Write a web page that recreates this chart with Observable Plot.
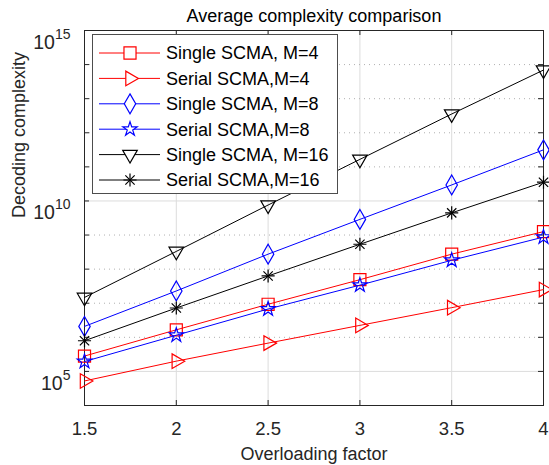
<!DOCTYPE html>
<html>
<head>
<meta charset="utf-8">
<script src="https://cdn.jsdelivr.net/npm/d3@7"></script>
<script src="https://cdn.jsdelivr.net/npm/@observablehq/plot@0.6"></script>
<style>
  html, body { margin: 0; padding: 0; background: #fff; }
  #wrap { position: relative; width: 549px; height: 465px; font-family: "Liberation Sans", Arial, sans-serif; }
  #legend { position: absolute; background: #fff; border: 1px solid #4d4d4d; box-sizing: border-box; }
</style>
</head>
<body>
<div id="wrap"></div>
<script>
// ---------- data ----------
const overloading = [1.5, 2, 2.5, 3, 3.5, 4];
const seriesNames = [
  "Single SCMA, M=4",
  "Serial SCMA,M=4",
  "Single SCMA, M=8",
  "Serial SCMA,M=8",
  "Single SCMA, M=16",
  "Serial SCMA,M=16"
];
const singleM4  = [2.82e5, 1.66e6, 9.33e6, 4.90e7, 2.75e8, 1.26e9];
const serialM4  = [5.25e4, 2.00e5, 6.76e5, 2.24e6, 7.41e6, 2.51e7];
const singleM8  = [2.09e6, 2.29e7, 2.75e8, 2.88e9, 2.95e10, 3.16e11];
const serialM8  = [1.95e5, 1.15e6, 6.76e6, 3.39e7, 1.82e8, 8.71e8];
const singleM16 = [1.48e7, 3.31e8, 7.59e9, 1.66e11, 3.55e12, 6.92e13];
const serialM16 = [7.94e5, 7.24e6, 6.31e7, 5.37e8, 4.47e9, 3.55e10];
const seriesValues = [singleM4, serialM4, singleM8, serialM8, singleM16, serialM16];

const xTicks = [1.5, 2, 2.5, 3, 3.5, 4];
const yLabelTicks = [1e5, 1e10, 1e15];
const yDecades = [1e4, 1e5, 1e6, 1e7, 1e8, 1e9, 1e10, 1e11, 1e12, 1e13, 1e14, 1e15];
const titleText = "Average complexity comparison";
const xLabelText = "Overloading factor";
const yLabelText = "Decoding complexity";

// ---------- styles (separate from data) ----------
const seriesStyle = [
  {color: "#ff0000", symbols: ["square"],        rotate: 0,   r: 6.8},
  {color: "#ff0000", symbols: ["triangle"],      rotate: 90,  r: 5.4},
  {color: "#0000ff", symbols: ["diamond"],       rotate: 0,   r: 6.0},
  {color: "#0000ff", symbols: ["star"],          rotate: 0,   r: 4.5},
  {color: "#000000", symbols: ["triangle"],      rotate: 180, r: 5.4},
  {color: "#000000", symbols: ["plus", "times"], rotate: 0,   r: 4.3}
];

const rows = seriesValues.flatMap((vals, i) =>
  overloading.map((x, j) => ({series: i, name: seriesNames[i], x, y: vals[j]})));

const W = 549, H = 465, ML = 84, MR = 6, MT = 30, MB = 60;
const FW = W - ML - MR, FH = H - MT - MB;
const TICK = 5;

const minorDecades = yDecades.filter(d => !yLabelTicks.includes(d));

const marks = [
  Plot.gridX(xTicks.slice(1, -1), {stroke: "#dcdcdc", strokeOpacity: 1}),
  Plot.gridY(minorDecades, {stroke: "#b0b0b0", strokeOpacity: 1, strokeDasharray: "1,4"}),
  Plot.gridY(yLabelTicks.slice(0, -1), {stroke: "#dcdcdc", strokeOpacity: 1}),
  Plot.frame({stroke: "#262626", strokeWidth: 1}),
  // inward tick marks (bottom, top, left, right)
  Plot.ruleX(xTicks, {x: d => d, stroke: "#262626", insetTop: FH - TICK}),
  Plot.ruleX(xTicks, {x: d => d, stroke: "#262626", insetBottom: FH - TICK}),
  Plot.ruleY(yDecades, {y: d => d, stroke: "#262626", insetRight: FW - TICK}),
  Plot.ruleY(yDecades, {y: d => d, stroke: "#262626", insetLeft: FW - TICK}),
  Plot.axisX({ticks: xTicks, tickSize: 0, tickPadding: 16, tickFormat: d => String(d), label: null, color: "#262626"}),
  Plot.axisY({ticks: yLabelTicks, tickSize: 0, tickPadding: 14, tickFormat: d => String(Math.round(Math.log10(d))), label: null, color: "#262626"}),
];

seriesValues.forEach((vals, i) => {
  const st = seriesStyle[i];
  const data = rows.filter(d => d.series === i);
  marks.push(Plot.line(data, {x: "x", y: "y", stroke: st.color, strokeWidth: 1}));
  st.symbols.forEach(sym => {
    marks.push(Plot.dot(data, {x: "x", y: "y", symbol: sym, r: st.r, rotate: st.rotate, fill: "none", stroke: st.color, strokeWidth: 1.2}));
  });
});

marks.push(
  Plot.text([titleText], {frameAnchor: "top", dy: -9, lineAnchor: "bottom", fontSize: 18, fill: "#000"}),
  Plot.text([xLabelText], {frameAnchor: "bottom", dy: 54, lineAnchor: "bottom", fontSize: 18, fill: "#262626"}),
  Plot.text([yLabelText], {frameAnchor: "left", dx: -65, rotate: -90, fontSize: 18, fill: "#262626"})
);

const chart = Plot.plot({
  width: W, height: H,
  marginLeft: ML, marginRight: MR, marginTop: MT, marginBottom: MB,
  style: {fontFamily: "'Liberation Sans', Arial, sans-serif", fontSize: "18px", background: "#fff", overflow: "visible"},
  x: {domain: [1.5, 4]},
  y: {type: "log", domain: [1e4, 1e15]},
  marks
});

const ns = "http://www.w3.org/2000/svg";
// x tick label size
chart.querySelectorAll('g[aria-label="x-axis tick label"] text').forEach(t => {
  t.setAttribute("font-size", "18.5");
  t.style.fontSize = "18.5px";
});
// superscript exponents on y tick labels
chart.querySelectorAll('g[aria-label="y-axis tick label"] text').forEach(t => {
  const e = t.textContent;
  t.textContent = "";
  t.style.fontSize = "19.5px";
  t.setAttribute("dy", "0.62em");
  const base = document.createElementNS(ns, "tspan");
  base.textContent = "10";
  base.style.fontSize = "19.5px";
  const sup = document.createElementNS(ns, "tspan");
  sup.textContent = e;
  sup.setAttribute("dy", "-10");
  sup.style.fontSize = "14px";
  t.appendChild(base);
  t.appendChild(sup);
});

const wrap = document.getElementById("wrap");
wrap.appendChild(chart);

// ---------- legend (inside the axes, top-left) ----------
const LG = {left: 92, top: 34, width: 246, height: 160, rowStart: 18, rowStep: 25.4, lineX1: 6, lineX2: 67, markX: 37, textX: 73};
const legend = document.createElement("div");
legend.id = "legend";
Object.assign(legend.style, {left: LG.left + "px", top: LG.top + "px", width: LG.width + "px", height: LG.height + "px"});
wrap.appendChild(legend);
const lsvg = d3.select(legend).append("svg")
  .attr("width", LG.width - 2).attr("height", LG.height - 2)
  .style("position", "absolute").style("left", "0px").style("top", "0px");
const symMap = {square: d3.symbolSquare, triangle: d3.symbolTriangle, diamond: d3.symbolDiamond, star: d3.symbolStar, plus: d3.symbolPlus, times: d3.symbolTimes};
seriesNames.forEach((name, i) => {
  const st = seriesStyle[i];
  const y = LG.rowStart + i * LG.rowStep;
  lsvg.append("line").attr("x1", LG.lineX1).attr("x2", LG.lineX2).attr("y1", y).attr("y2", y)
    .attr("stroke", st.color).attr("stroke-width", 1);
  st.symbols.forEach(sym => {
    lsvg.append("path")
      .attr("d", d3.symbol(symMap[sym], Math.PI * st.r * st.r)())
      .attr("transform", `translate(${LG.markX},${y}) rotate(${st.rotate})`)
      .attr("fill", "#fff").attr("stroke", st.color).attr("stroke-width", 1.2);
  });
  lsvg.append("text").attr("x", LG.textX).attr("y", y).attr("dy", "0.35em")
    .attr("font-family", "'Liberation Sans', Arial, sans-serif").attr("font-size", 18)
    .attr("fill", "#000").text(name);
});
</script>
</body>
</html>
